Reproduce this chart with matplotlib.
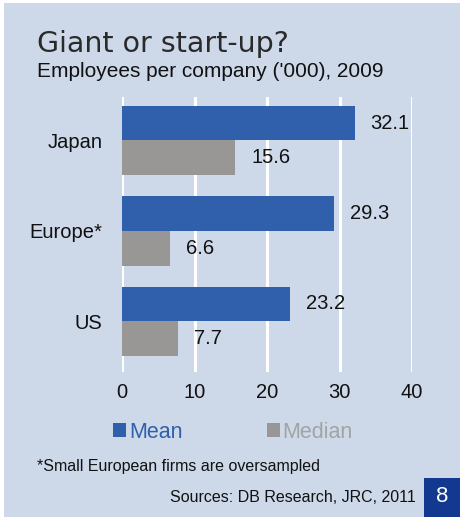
import matplotlib.pyplot as plt
from matplotlib.patches import Rectangle, Patch

plt.rcParams['font.family'] = ['Liberation Sans', 'DejaVu Sans']

regions = ['Japan', 'Europe*', 'US']
mean_emp = [32.1, 29.3, 23.2]
median_emp = [15.6, 6.6, 7.7]
xticks = [0, 10, 20, 30, 40]

bg = '#cdd8e9'
blue = '#3060ac'
grey = '#999795'

fig = plt.figure(figsize=(4.62, 5.17), dpi=100, facecolor='white')
# panel background
fig.patches.append(Rectangle((4 / 462, 0), 456 / 462, 514 / 517,
                             transform=fig.transFigure, facecolor=bg,
                             edgecolor='none', zorder=-10))
# page number box
fig.patches.append(Rectangle((424 / 462, 0), 36 / 462, 39 / 517,
                             transform=fig.transFigure, facecolor='#12398f',
                             edgecolor='none', zorder=-5))
fig.text(442 / 462, 20 / 517, '8', color='white', fontsize=16,
         ha='center', va='center')

ax = fig.add_axes([122 / 462, 145 / 517, 290 / 462, 275 / 517])
ax.set_facecolor(bg)

h = 0.385
ys = list(range(len(regions)))
ax.barh([y - h / 2 for y in ys], mean_emp, height=h, color=blue, zorder=3)
ax.barh([y + h / 2 for y in ys], median_emp, height=h, color=grey, zorder=3)

for y, m, md in zip(ys, mean_emp, median_emp):
    ax.text(m + 2.2, y - h / 2, f'{m:.1f}', va='center', ha='left',
            fontsize=14.5, color='#111111')
    ax.text(md + 2.2, y + h / 2, f'{md:.1f}', va='center', ha='left',
            fontsize=14.5, color='#111111')

ax.set_xlim(0, 40)
ax.set_ylim(2.56, -0.48)
ax.set_xticks(xticks)
ax.set_xticklabels([str(t) for t in xticks], fontsize=14.5, color='#111111')
ax.set_yticks(ys)
ax.set_yticklabels(regions, fontsize=14.5, color='#111111')
ax.tick_params(length=0)
ax.tick_params(axis='x', pad=8)
ax.tick_params(axis='y', pad=14)
ax.grid(axis='x', color='white', lw=2.2, zorder=1)
for s in ax.spines.values():
    s.set_visible(False)

fig.text(37 / 462, 1 - 44 / 517, 'Giant or start-up?', fontsize=20.5,
         family=['DejaVu Sans'], color='#2a2a2a', va='center', ha='left')
fig.text(37 / 462, 1 - 71 / 517, "Employees per company ('000), 2009",
         fontsize=15, color='#111111', va='center', ha='left')

handles = [Patch(facecolor=blue, label='Mean'),
           Patch(facecolor=grey, label='Median')]
fig.legend(handles=handles, loc='center', bbox_to_anchor=(233 / 462, 1 - 432 / 517),
           ncol=2, frameon=False, fontsize=15.5, handlelength=0.6,
           handleheight=0.6, handletextpad=0.15, columnspacing=3.9,
           labelcolor=[blue, '#a3a3a3'])

fig.text(37 / 462, 1 - 466 / 517, '*Small European firms are oversampled',
         fontsize=11.5, color='#111111', va='center', ha='left')
fig.text(416 / 462, 1 - 497 / 517, 'Sources: DB Research, JRC, 2011',
         fontsize=11.5, color='#111111', va='center', ha='right')

fig.savefig('out.png', dpi=100, facecolor='white')
